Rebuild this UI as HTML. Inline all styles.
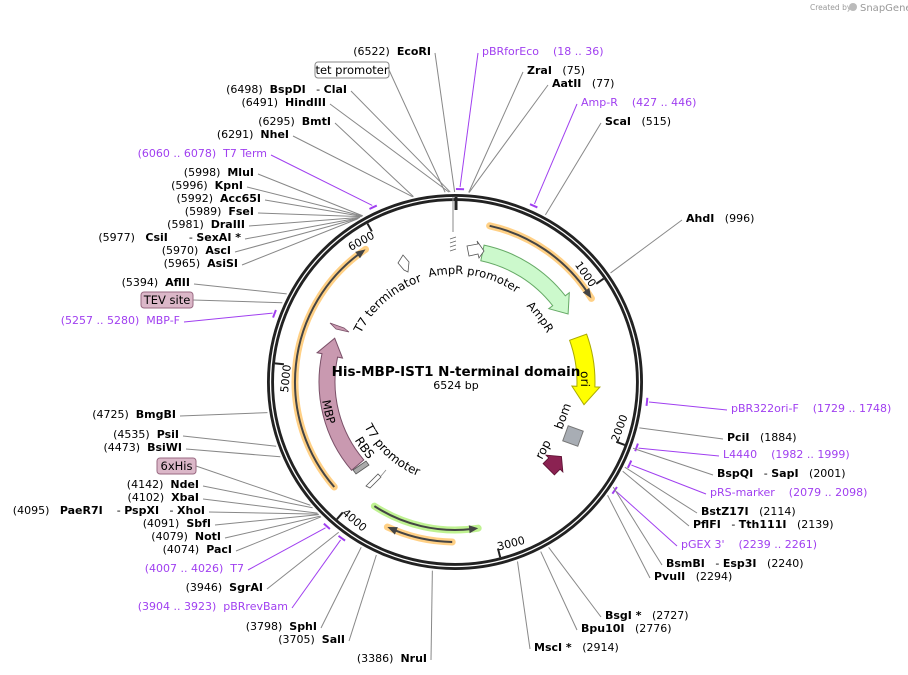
<!DOCTYPE html>
<html><head><meta charset="utf-8">
<style>
html,body{margin:0;padding:0;background:#fff;}
svg{display:block;font-family:"DejaVu Sans","Liberation Sans",sans-serif;}
text{white-space:pre;}
</style></head>
<body>
<svg id="s" width="908" height="675" viewBox="0 0 908 675" xmlns="http://www.w3.org/2000/svg">
<text x="810" y="10" font-size="7.5" fill="#999">Created by</text>
<circle cx="853" cy="7" r="4" fill="#bbb"/>
<text x="860" y="11" font-size="10" fill="#999">SnapGene</text>
<g id="g"></g>
</svg>
<script>
var NS="http://www.w3.org/2000/svg",g=document.getElementById('g');
var cx=455,cy=382,L=6524;
function el(t,a,txt){var e=document.createElementNS(NS,t);for(var k in a)e.setAttribute(k,a[k]);if(txt!=null)e.textContent=txt;g.appendChild(e);return e;}
function P(r,t){var a=t*Math.PI/180;return [cx+r*Math.sin(a),cy-r*Math.cos(a)];}
function th(p){return p/L*360;}
function arcPath(r,t1,t2){var a=P(r,t1),b=P(r,t2),lg=Math.abs(t2-t1)>180?1:0,sw=t2>t1?1:0;return "M"+a[0]+","+a[1]+" A"+r+","+r+" 0 "+lg+" "+sw+" "+b[0]+","+b[1];}
function pt(p){return p[0].toFixed(1)+","+p[1].toFixed(1);}
function band(r,w,t1,t2,h,cw,fill,stroke){
  var ro=r+w/2,ri=r-w/2,d;
  if(cw){var e=t2-h;d="M"+pt(P(ro,t1))+" A"+ro+","+ro+" 0 0 1 "+pt(P(ro,e))+" L"+pt(P(ro+5,e))+" L"+pt(P(r,t2))+" L"+pt(P(ri-5,e))+" L"+pt(P(ri,e))+" A"+ri+","+ri+" 0 0 0 "+pt(P(ri,t1))+"Z";}
  else{var s=t1+h;d="M"+pt(P(ro,t2))+" A"+ro+","+ro+" 0 0 0 "+pt(P(ro,s))+" L"+pt(P(ro+5,s))+" L"+pt(P(r,t1))+" L"+pt(P(ri-5,s))+" L"+pt(P(ri,s))+" A"+ri+","+ri+" 0 0 1 "+pt(P(ri,t2))+"Z";}
  el('path',{d:d,fill:fill,stroke:stroke,'stroke-width':1});
}
function thinArc(r,t1,t2,cw,halo){
  var e1=cw?t1:t1+2.5,e2=cw?t2-2.5:t2;
  el('path',{d:arcPath(r,t1,t2),fill:'none',stroke:halo,'stroke-width':7,'stroke-linecap':'round',opacity:0.85});
  el('path',{d:arcPath(r,e1,e2),fill:'none',stroke:'#444','stroke-width':2});
  var tip=cw?t2:t1,b=cw?t2-3.5:t1+3.5;
  el('path',{d:"M"+pt(P(r+4,b))+" L"+pt(P(r,tip))+" L"+pt(P(r-4,b))+"Z",fill:'#444'});
}
el('circle',{cx:cx,cy:cy,r:184.5,fill:'none',stroke:'#222','stroke-width':7});
el('circle',{cx:cx,cy:cy,r:184.5,fill:'none',stroke:'#fff','stroke-width':1.3});
el('line',{x1:456,y1:197,x2:456,y2:210,stroke:'#222','stroke-width':3});
el('line',{x1:453,y1:197,x2:453,y2:232,stroke:'#888','stroke-width':1});
[1000,2000,3000,4000,5000,6000].forEach(function(k){
  var t=th(k),a=P(181,t),b=P(172,t);
  el('line',{x1:a[0],y1:a[1],x2:b[0],y2:b[1],stroke:'#222','stroke-width':2});
  var bot=(t>90&&t<270);
  var q=P(bot?174:165,t),rot=bot?t-180:t;
  el('text',{x:q[0],y:q[1],'font-size':11,'text-anchor':bot?'start':'end',transform:'rotate('+rot+' '+q[0]+' '+q[1]+')'},String(k));
});
thinArc(160,12.5,58.5,true,'#ffc870');
thinArc(160,229,326,true,'#ffc870');
thinArc(160,181,205,true,'#ffc870');
thinArc(148,171,213,false,'#b4f07e');
band(132,16,12,59,7,true,'#ccf9cc','#6a6');
band(131,18,70,100,8,true,'#ffff00','#aa0');
band(128,16,229.5,290,8,true,'#c999b0','#7a5068');
el('path',{d:"M467,246 L478,244 L477,241 L484,251 L479,258 L478,254 L469,256Z",fill:'#fff',stroke:'#555','stroke-width':0.8});
el('path',{d:"M450,243 l6,-2 M450,247 l6,-2 M450,251 l6,-2 M450,239 l6,-2",stroke:'#666','stroke-width':0.8});
el('path',{d:"M398,263 L403,255 L409,262 L408,272 L404,270Z",fill:'#fff',stroke:'#555','stroke-width':0.8});
el('path',{d:"M330,323 L344,328 L349,332 L336,329Z",fill:'#c999b0',stroke:'#7a5068','stroke-width':0.8});
el('path',{d:"M353,470 L366,461 L369,465 L356,474Z",fill:'#aaa',stroke:'#555','stroke-width':0.8});
el('path',{d:"M366,486 L378,474 L381,477 L370,488Z",fill:'#fff',stroke:'#555','stroke-width':0.8});
el('line',{x1:381,y1:476,x2:386,y2:470,stroke:'#888','stroke-width':0.8});
el('rect',{x:-8,y:-8,width:16,height:16,fill:'#a8adb4',stroke:'#777',transform:'translate(573,436) rotate(20)'});
el('path',{d:"M-8,6 L-8,-2 L-12,-2 L0,-12 L12,-2 L8,-2 L8,6Z",fill:'#8b2252',stroke:'#5a1030','stroke-width':0.8,transform:'translate(553,465) rotate(45)'});
el('text',{x:0,y:0,'font-size':12,transform:'translate(562,430) rotate(-70)'},'bom');
el('text',{x:0,y:0,'font-size':12,transform:'translate(542,460) rotate(-62)'},'rop');
function cwPath(id,r){el('path',{id:id,d:"M"+cx+","+(cy+r)+" A"+r+","+r+" 0 1 1 "+cx+","+(cy-r)+" A"+r+","+r+" 0 1 1 "+cx+","+(cy+r),fill:'none'});}
function ccwPath(id,r){el('path',{id:id,d:"M"+cx+","+(cy-r)+" A"+r+","+r+" 0 1 0 "+cx+","+(cy+r)+" A"+r+","+r+" 0 1 0 "+cx+","+(cy-r),fill:'none'});}
function cwText(txt,r,t,fs){var id='c'+Math.random().toString(36).slice(2);cwPath(id,r);
  var off=((t-180+720)%360)/360*2*Math.PI*r;var tx=el('text',{'font-size':fs});
  var tp=document.createElementNS(NS,'textPath');tp.setAttribute('href','#'+id);tp.setAttribute('startOffset',off);tp.textContent=txt;tx.appendChild(tp);}
function ccwText(txt,r,t,fs){var id='c'+Math.random().toString(36).slice(2);ccwPath(id,r);
  var off=((360-t)%360)/360*2*Math.PI*r;var tx=el('text',{'font-size':fs});
  var tp=document.createElementNS(NS,'textPath');tp.setAttribute('href','#'+id);tp.setAttribute('startOffset',off);tp.textContent=txt;tx.appendChild(tp);}
cwText('AmpR promoter',108,-14,11.5);
cwText('AmpR',104,43,11.5);
cwText('T7 terminator',106,297,12);
cwText('ori',126,85,12);
ccwText('T7 promoter',101,244,12);
ccwText('RBS',116,240,12);
ccwText('MBP',134,262,11.5);
el('text',{x:456,y:376,'font-size':13.5,'font-weight':'bold','text-anchor':'middle'},'His-MBP-IST1 N-terminal domain');
el('text',{x:456,y:389,'font-size':11,'text-anchor':'middle'},'6524 bp');
var PUR='#a03ff0';
var labs=[
[1,431,51,6522,[['(6522)  ',0],['EcoRI',1]]],
[1,347,89,6498,[['(6498)  ',0],['BspDI',1],['   - ',0],['ClaI',1]]],
[1,326,102,6491,[['(6491)  ',0],['HindIII',1]]],
[1,331,121,6295,[['(6295)  ',0],['BmtI',1]]],
[1,289,134,6291,[['(6291)  ',0],['NheI',1]]],
[1,267,153,6069,[['(6060 .. 6078)  T7 Term',0]],PUR],
[1,254,172,5998,[['(5998)  ',0],['MluI',1]]],
[1,243,185,5996,[['(5996)  ',0],['KpnI',1]]],
[1,261,198,5992,[['(5992)  ',0],['Acc65I',1]]],
[1,254,211,5989,[['(5989)  ',0],['FseI',1]]],
[1,245,224,5981,[['(5981)  ',0],['DraIII',1]]],
[1,241,237,5977,[['(5977)   ',0],['CsiI',1],['      - ',0],['SexAI *',1]]],
[1,231,250,5970,[['(5970)  ',0],['AscI',1]]],
[1,238,263,5965,[['(5965)  ',0],['AsiSI',1]]],
[1,190,282,5394,[['(5394)  ',0],['AflII',1]]],
[1,180,320,5268,[['(5257 .. 5280)  MBP-F',0]],PUR],
[1,176,414,4725,[['(4725)  ',0],['BmgBI',1]]],
[1,179,434,4535,[['(4535)  ',0],['PsiI',1]]],
[1,182,447,4473,[['(4473)  ',0],['BsiWI',1]]],
[1,199,484,4142,[['(4142)  ',0],['NdeI',1]]],
[1,199,497,4102,[['(4102)  ',0],['XbaI',1]]],
[1,205,510,4095,[['(4095)   ',0],['PaeR7I',1],['    - ',0],['PspXI',1],['   - ',0],['XhoI',1]]],
[1,211,523,4091,[['(4091)  ',0],['SbfI',1]]],
[1,221,536,4079,[['(4079)  ',0],['NotI',1]]],
[1,232,549,4074,[['(4074)  ',0],['PacI',1]]],
[1,244,568,4016,[['(4007 .. 4026)  T7',0]],PUR],
[1,263,587,3946,[['(3946)  ',0],['SgrAI',1]]],
[1,288,606,3913,[['(3904 .. 3923)  pBRrevBam',0]],PUR],
[1,317,626,3798,[['(3798)  ',0],['SphI',1]]],
[1,345,639,3705,[['(3705)  ',0],['SalI',1]]],
[1,427,658,3386,[['(3386)  ',0],['NruI',1]]],
[0,482,51,27,[['pBRforEco    (18 .. 36)',0]],PUR],
[0,527,70,75,[['ZraI',1],['   (75)',0]]],
[0,552,83,77,[['AatII',1],['   (77)',0]]],
[0,581,102,436,[['Amp-R    (427 .. 446)',0]],PUR],
[0,605,121,515,[['ScaI',1],['   (515)',0]]],
[0,686,218,996,[['AhdI',1],['   (996)',0]]],
[0,731,408,1738,[['pBR322ori-F    (1729 .. 1748)',0]],PUR],
[0,727,437,1884,[['PciI',1],['   (1884)',0]]],
[0,723,454,1990,[['L4440    (1982 .. 1999)',0]],PUR],
[0,717,473,2001,[['BspQI',1],['   - ',0],['SapI',1],['   (2001)',0]]],
[0,710,492,2088,[['pRS-marker    (2079 .. 2098)',0]],PUR],
[0,701,511,2114,[['BstZ17I',1],['   (2114)',0]]],
[0,693,524,2139,[['PflFI',1],['   - ',0],['Tth111I',1],['   (2139)',0]]],
[0,681,544,2250,[['pGEX 3\'    (2239 .. 2261)',0]],PUR],
[0,666,563,2240,[['BsmBI',1],['   - ',0],['Esp3I',1],['   (2240)',0]]],
[0,654,576,2294,[['PvuII',1],['   (2294)',0]]],
[0,605,615,2727,[['BsgI *',1],['   (2727)',0]]],
[0,581,628,2776,[['Bpu10I',1],['   (2776)',0]]],
[0,534,647,2914,[['MscI *',1],['   (2914)',0]]]
];
labs.forEach(function(l){
  var left=l[0],x=l[1],y=l[2],t=th(l[3]),col=l[5]||'#000';
  var isP=!!l[5];
  var e=P(isP?195:190,t);
  el('line',{x1:left?x+4:x-4,y1:y+2,x2:e[0],y2:e[1],stroke:isP?PUR:'#888','stroke-width':1});
  if(isP){el('path',{d:arcPath(193,t-1.2,t+1.2),fill:'none',stroke:PUR,'stroke-width':2});}
  var tx=el('text',{x:x,y:y+4,'font-size':11,'text-anchor':left?'end':'start',fill:col});
  l[4].forEach(function(p){var s=document.createElementNS(NS,'tspan');if(p[1])s.setAttribute('font-weight','bold');s.textContent=p[0];tx.appendChild(s);});
});
function box(x,y,w,txt,fill,stroke,pos){
  var t=th(pos),e=P(190,t);
  el('line',{x1:x+w,y1:y+8,x2:e[0],y2:e[1],stroke:'#888','stroke-width':1});
  el('rect',{x:x,y:y,width:w,height:16,rx:3,fill:fill,stroke:stroke,'stroke-width':1});
  el('text',{x:x+w/2,y:y+12,'font-size':11.5,'text-anchor':'middle'},txt);
}
box(315,62,74,'tet promoter','#fff','#888',6470);
box(141,292,52,'TEV site','#dbb7c8','#9a6a82',5340);
box(157,458,39,'6xHis','#dbb7c8','#9a6a82',4160);
</script>
</body></html>
